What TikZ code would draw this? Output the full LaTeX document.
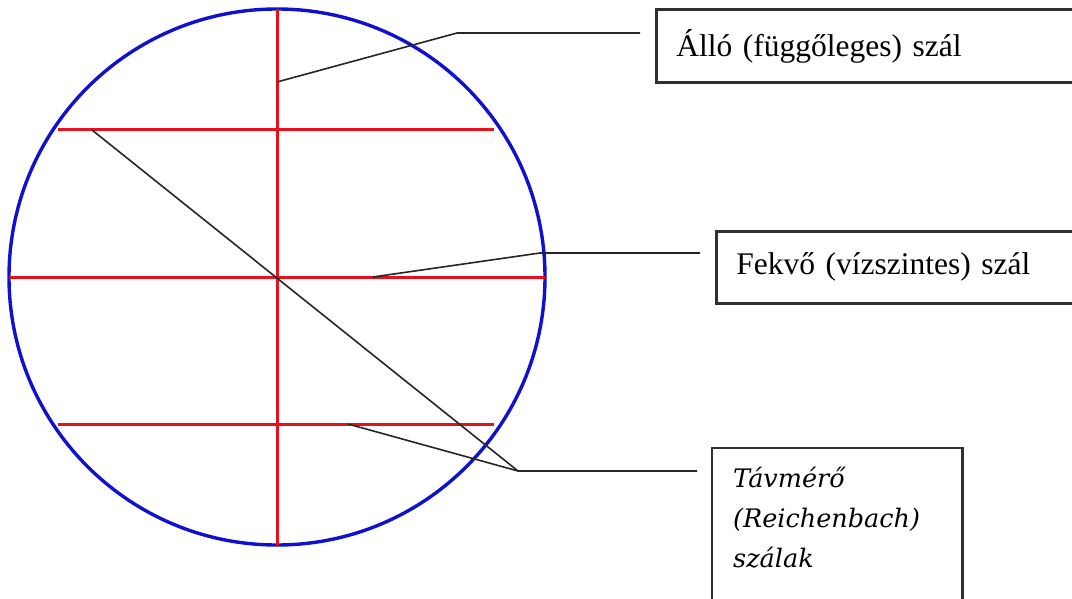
\documentclass[tikz,border=0pt]{standalone}
\usepackage{fontspec}
\setmainfont{Liberation Serif}
\newfontfamily\italfont{DejaVu Serif}
\usetikzlibrary{positioning,calc}
\definecolor{fiber}{HTML}{E8101A}
\definecolor{rim}{HTML}{1010D0}
\definecolor{frame}{HTML}{303030}

\begin{document}
\begin{tikzpicture}[
  x=1pt, y=-1pt,
  hair/.style={draw=fiber, line width=3pt},
  lens/.style={draw=rim, line width=3.4pt},
  lead/.style={draw=black!85, line width=1.6pt},
  boxframe/.style={draw=frame, line width=2.8pt},
  labelbox/.style={rectangle, boxframe, anchor=north west, align=left, inner xsep=20pt, font=\fontsize{31.5}{36}\selectfont},
  stadiatext/.style={anchor=north west, align=left, inner xsep=21pt, inner ysep=19pt, font=\italfont\itshape\fontsize{25.5}{40}\selectfont}
]
\useasboundingbox (0,0) rectangle (1072,599);
\clip (0,0) rectangle (1072,599);
\fill[white] (0,0) rectangle (1072,599);

% field of view
\coordinate (o) at (277,277);
\draw[lens] (o) circle[radius=268pt];
\draw[hair] (277,9) -- (277,545);
\draw[hair] (9,277) -- (545,277);
\draw[hair] (58,130) -- (494,130);
\draw[hair] (58,424) -- (494,424);

% label boxes
\node[labelbox, minimum width=440pt, minimum height=73pt, text width=400pt] (vert) at (655,8) {Álló (függőleges) szál};
\node[labelbox, minimum width=380pt, minimum height=72pt, text width=340pt] (horiz) at (715,230) {Fekvő (vízszintes) szál};
\node[stadiatext, text width=208pt] (stadia) at (712,448) {Távmérő\\(Reichenbach)\\szálak};
\draw[boxframe] (stadia.north west) rectangle (stadia.north east |- 0,640);

% leader points
\coordinate (v0) at (277,82);
\coordinate (v1) at (457,33);
\coordinate (v2) at (640,33);
\coordinate (h0) at (373,277);
\coordinate (h1) at (540,253);
\coordinate (h2) at (700,253);
\coordinate (s0) at (92,130);
\coordinate (s1) at (348,424);
\coordinate (s2) at (518,471);
\coordinate (s3) at (697,471);

\draw[lead] (v0) -- (v1) -- (v2);
\draw[lead] (h0) -- (h1) -- (h2);
\draw[lead] (s0) -- (s2);
\draw[lead] (s1) -- (s2) -- (s3);
\end{tikzpicture}
\end{document}
